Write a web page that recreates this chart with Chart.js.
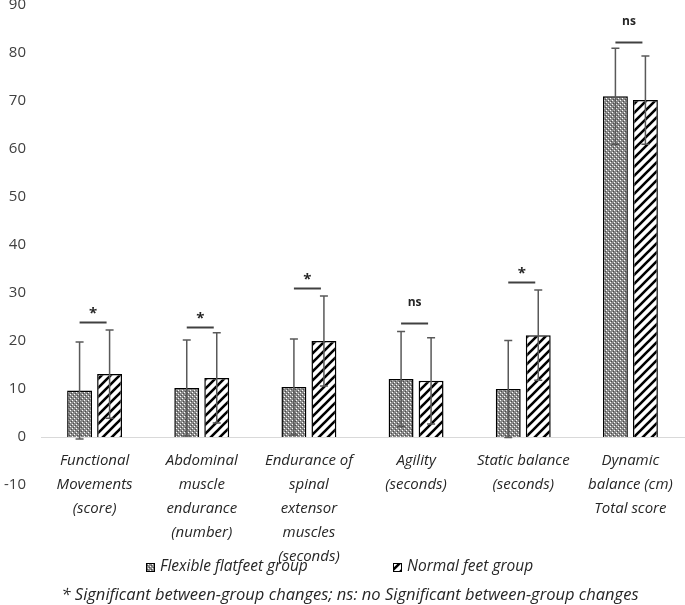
<!DOCTYPE html>
<html>
<head>
<meta charset="utf-8">
<script src="https://cdn.jsdelivr.net/npm/chart.js@4.4.1/dist/chart.umd.min.js"></script>
<style>
  body { margin: 0; background: #fff; }
  #wrap { width: 685px; height: 605px; position: relative; }
</style>
</head>
<body>
<div id="wrap"><canvas id="myChart"></canvas></div>
<script>
// categories
const categories = [
  ['Functional', 'Movements', '(score)'],
  ['Abdominal', 'muscle', 'endurance', '(number)'],
  ['Endurance of', 'spinal', 'extensor', 'muscles', '(seconds)'],
  ['Agility', '(seconds)'],
  ['Static balance', '(seconds)'],
  ['Dynamic', 'balance (cm)', 'Total score']
];
// means and SDs
const flatMeans = [9.7, 10.2, 10.4, 12.1, 10.0, 71.0];
const flatSd = [10.1, 10.0, 10.0, 9.9, 10.1, 10.0];
const normalMeans = [13.1, 12.3, 20.0, 11.7, 21.2, 70.2];
const normalSd = [9.2, 9.4, 9.4, 9.0, 9.4, 9.2];
// significance markers
const sigLevels = [24.0, 22.9, 31.0, 23.8, 32.3, 82.3];
const sigTexts = ['*', '*', '*', 'ns', '*', 'ns'];
const seriesNames = ['Flexible flatfeet group', 'Normal feet group'];
const footnote = '* Significant between-group changes; ns: no Significant between-group changes';

const FONT = "'Open Sans', sans-serif";

// pattern for the flatfeet bars (grey checker)
function checkPattern(ctx) {
  const c = document.createElement('canvas');
  c.width = 4; c.height = 4;
  const g = c.getContext('2d');
  g.fillStyle = '#8a8a8a'; g.fillRect(0, 0, 4, 4);
  g.fillStyle = '#ffffff';
  g.fillRect(0, 0, 1, 1); g.fillRect(2, 2, 1, 1);
  g.fillStyle = '#4a4a4a';
  g.fillRect(1, 3, 1, 1); g.fillRect(3, 1, 1, 1);
  return ctx.createPattern(c, 'repeat');
}
// pattern for the normal feet bars (black diagonal stripes)
function stripePattern(ctx) {
  const s = 9;
  const c = document.createElement('canvas');
  c.width = s; c.height = s;
  const g = c.getContext('2d');
  g.fillStyle = '#ffffff'; g.fillRect(0, 0, s, s);
  g.strokeStyle = '#000000'; g.lineWidth = 2.6;
  g.beginPath();
  g.moveTo(-1, s + 1); g.lineTo(s + 1, -1);
  g.moveTo(-s / 2 - 1, s / 2 + 1); g.lineTo(s / 2 + 1, -s / 2 - 1);
  g.moveTo(s / 2 - 1, s * 1.5 + 1); g.lineTo(s * 1.5 + 1, s / 2 - 1);
  g.stroke();
  return ctx.createPattern(c, 'repeat');
}

const ctx = document.getElementById('myChart').getContext('2d');
const flatFill = checkPattern(ctx);
const normalFill = stripePattern(ctx);

// error bars drawn over the bars
const errorBars = {
  id: 'errorBars',
  afterDatasetsDraw(chart) {
    const c = chart.ctx;
    const y = chart.scales.y;
    const all = [[flatMeans, flatSd], [normalMeans, normalSd]];
    c.save();
    c.strokeStyle = '#595959';
    c.lineWidth = 1.5;
    all.forEach((pair, di) => {
      chart.getDatasetMeta(di).data.forEach((bar, i) => {
        const top = y.getPixelForValue(pair[0][i] + pair[1][i]);
        const bot = y.getPixelForValue(pair[0][i] - pair[1][i]);
        c.beginPath();
        c.moveTo(bar.x, top); c.lineTo(bar.x, bot);
        c.moveTo(bar.x - 4, top); c.lineTo(bar.x + 4, top);
        c.moveTo(bar.x - 4, bot); c.lineTo(bar.x + 4, bot);
        c.stroke();
      });
    });
    c.restore();
  }
};

// significance lines, legend and footnote
const extras = {
  id: 'extras',
  afterDraw(chart) {
    const c = chart.ctx;
    const y = chart.scales.y;
    const m0 = chart.getDatasetMeta(0).data;
    const m1 = chart.getDatasetMeta(1).data;
    c.save();
    sigLevels.forEach((v, i) => {
      const py = Math.round(y.getPixelForValue(v)) + 0.5;
      c.strokeStyle = '#404040';
      c.lineWidth = 2;
      c.beginPath();
      c.moveTo(m0[i].x, py); c.lineTo(m1[i].x - 3, py);
      c.stroke();
      const cx = (m0[i].x + m1[i].x - 3) / 2;
      c.fillStyle = '#262626';
      c.textAlign = 'center';
      c.textBaseline = 'middle';
      if (sigTexts[i] === '*') {
        c.font = 'bold 15px ' + FONT;
        c.fillText('*', cx, py - 9);
      } else {
        c.font = 'bold 12px ' + FONT;
        c.fillText(sigTexts[i], cx, py - 21);
      }
    });

    // legend
    const fills = [flatFill, normalFill];
    const lx = [146, 393];
    c.font = 'italic 15.5px ' + FONT;
    c.textAlign = 'left';
    c.textBaseline = 'middle';
    seriesNames.forEach((name, i) => {
      c.fillStyle = fills[i];
      c.fillRect(lx[i], 563, 8, 8);
      c.strokeStyle = '#000';
      c.lineWidth = 1;
      c.strokeRect(lx[i] + 0.5, 563.5, 8, 8);
      c.fillStyle = '#262626';
      c.fillText(name, lx[i] + 14, 567);
    });

    // footnote
    c.font = 'italic 16.5px ' + FONT;
    c.textAlign = 'center';
    c.fillText(footnote, 350, 595);
    c.restore();
  }
};

new Chart(ctx, {
  type: 'bar',
  data: {
    labels: categories,
    datasets: [
      {
        label: seriesNames[0],
        data: flatMeans,
        backgroundColor: flatFill,
        borderColor: '#000',
        borderWidth: 1.5,
        categoryPercentage: 0.56,
        barPercentage: 0.83
      },
      {
        label: seriesNames[1],
        data: normalMeans,
        backgroundColor: normalFill,
        borderColor: '#000',
        borderWidth: 1.5,
        categoryPercentage: 0.56,
        barPercentage: 0.83
      }
    ]
  },
  options: {
    responsive: true,
    maintainAspectRatio: false,
    animation: false,
    layout: { padding: { top: 5, left: 3, right: 1, bottom: 120 } },
    plugins: {
      legend: { display: false },
      tooltip: { enabled: false }
    },
    scales: {
      x: {
        position: { y: 0 },
        grid: { display: false, drawTicks: false },
        border: { color: '#d9d9d9', width: 1 },
        afterFit: s => { s.paddingLeft = 0; s.paddingRight = 0; s.paddingTop = 0; s.paddingBottom = 0; },
        ticks: {
          color: '#262626',
          font: { family: FONT, size: 15, style: 'italic', lineHeight: 1.6 },
          padding: 12,
          maxRotation: 0,
          autoSkip: false
        }
      },
      y: {
        min: -10,
        max: 90,
        grid: { display: false, drawTicks: false },
        border: { display: false },
        afterFit: s => { s.paddingTop = 0; s.paddingBottom = 0; s.width = 38; },
        ticks: {
          stepSize: 10,
          color: '#404040',
          padding: 15,
          font: { family: FONT, size: 15, lineHeight: 0.7 }
        }
      }
    }
  },
  plugins: [errorBars, extras]
});
</script>
</body>
</html>
